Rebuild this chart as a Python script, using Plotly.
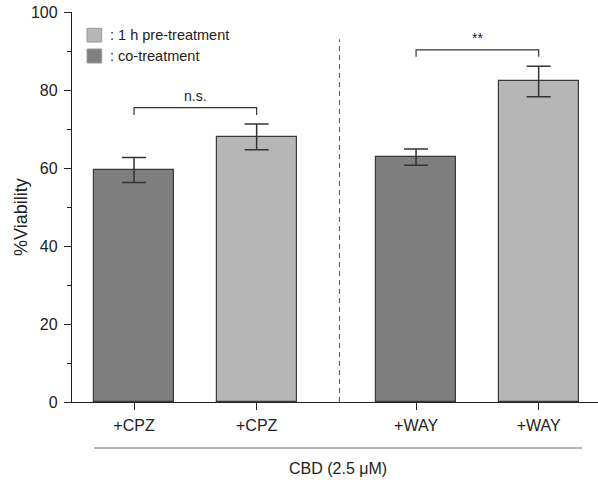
import plotly.graph_objects as go

# ---- data ----
categories = ["+CPZ", "+CPZ", "+WAY", "+WAY"]
x_pos = [1, 2, 3.3, 4.3]
viability = [59.5, 68.0, 62.8, 82.2]
sem = [3.2, 3.3, 2.1, 3.9]
treatment = ["co", "pre", "co", "pre"]
legend_labels = [": 1 h pre-treatment", ": co-treatment"]
sig_labels = ["n.s.", "**"]
group_label = "CBD (2.5 μM)"

DARK = "#7f7f7f"
LIGHT = "#b6b6b6"
FONT = "Liberation Sans, Arial, sans-serif"
TXT = "#222222"

W, H = 598, 480
ML, MR, MT, MB = 72, 0, 12, 78
PW, PH = W - ML - MR, H - MT - MB

def px2paper_x(px):
    return (px - ML) / PW

def px2paper_y(py):
    return (H - MB - py) / PH

colors = [DARK if t == "co" else LIGHT for t in treatment]

fig = go.Figure()
fig.add_trace(go.Bar(
    x=x_pos, y=viability, width=0.653,
    marker=dict(color=colors, line=dict(color="#3a3a3a", width=1.2)),
    error_y=dict(type="data", array=sem, visible=True, color="#333333",
                 thickness=1.5, width=12),
    showlegend=False,
))

shapes = []
# separator dashed line
shapes.append(dict(type="line", xref="x", yref="y", x0=2.675, x1=2.675, y0=0, y1=93,
                   line=dict(color="#555555", width=1, dash="5px,4px")))
# significance brackets
brackets = [(1, 2, 75.5, 73.6), (3.3, 4.3, 90.3, 88.5)]
for (xa, xb, yt, yb), lab in zip(brackets, sig_labels):
    shapes.append(dict(type="path", xref="x", yref="y",
                       path=f"M {xa},{yb} L {xa},{yt} L {xb},{yt} L {xb},{yb}",
                       line=dict(color="#333333", width=1.2)))
    fig.add_annotation(x=(xa + xb) / 2, y=yt + 0.5, xref="x", yref="y",
                       text=lab, showarrow=False, xanchor="center", yanchor="bottom",
                       font=dict(family=FONT, size=14, color=TXT))

# group line below axis
shapes.append(dict(type="line", xref="paper", yref="paper",
                   x0=px2paper_x(94.6), x1=px2paper_x(582),
                   y0=px2paper_y(448), y1=px2paper_y(448),
                   line=dict(color="#666666", width=1)))
fig.add_annotation(x=px2paper_x(338), y=px2paper_y(468), xref="paper", yref="paper",
                   text=group_label, showarrow=False, xanchor="center", yanchor="middle",
                   font=dict(family=FONT, size=16, color=TXT))

# custom legend
leg_colors = [LIGHT, DARK]
leg_y = [(28.3, 42.0), (49.0, 63.0)]
for (y0, y1), c, lab in zip(leg_y, leg_colors, legend_labels):
    shapes.append(dict(type="rect", xref="paper", yref="paper",
                       x0=px2paper_x(87), x1=px2paper_x(101.7),
                       y0=px2paper_y(y1), y1=px2paper_y(y0),
                       fillcolor=c, line=dict(color="#999999", width=1)))
    fig.add_annotation(x=px2paper_x(108), y=px2paper_y((y0 + y1) / 2),
                       xref="paper", yref="paper", text=lab, showarrow=False,
                       xanchor="left", yanchor="middle",
                       font=dict(family=FONT, size=14.5, color=TXT))

# y axis title
fig.add_annotation(x=px2paper_x(21), y=px2paper_y(217), xref="paper", yref="paper",
                   text="%Viability", showarrow=False, textangle=-90,
                   xanchor="center", yanchor="middle",
                   font=dict(family=FONT, size=18, color=TXT))

fig.update_layout(
    width=W, height=H,
    margin=dict(l=ML, r=MR, t=MT, b=MB, pad=0),
    paper_bgcolor="white", plot_bgcolor="white",
    shapes=shapes,
    font=dict(family=FONT, color=TXT),
    bargap=0,
)
fig.update_xaxes(
    range=[0.494, 4.784], tickvals=x_pos, ticktext=categories,
    showline=True, linecolor=TXT, linewidth=1.3,
    ticks="outside", ticklen=7, tickcolor=TXT, tickwidth=1.3,
    showgrid=False, zeroline=False,
    tickfont=dict(family=FONT, size=16, color=TXT),
    ticklabelstandoff=2,
)
fig.update_yaxes(
    range=[0, 100], tickvals=[0, 20, 40, 60, 80, 100],
    showline=True, linecolor=TXT, linewidth=1.3,
    ticks="outside", ticklen=7, tickcolor=TXT, tickwidth=1.3,
    minor=dict(tickvals=[10, 30, 50, 70, 90], ticks="outside", ticklen=4,
               tickcolor=TXT, tickwidth=1.3),
    showgrid=False, zeroline=False,
    tickfont=dict(family=FONT, size=16, color=TXT),
    ticklabelstandoff=3,
    ticklabeloverflow="allow",
)

fig.write_html(
    "out.html",
    config={"displayModeBar": False},
    post_script="document.body.style.margin='0';document.body.style.overflow='hidden';",
)
